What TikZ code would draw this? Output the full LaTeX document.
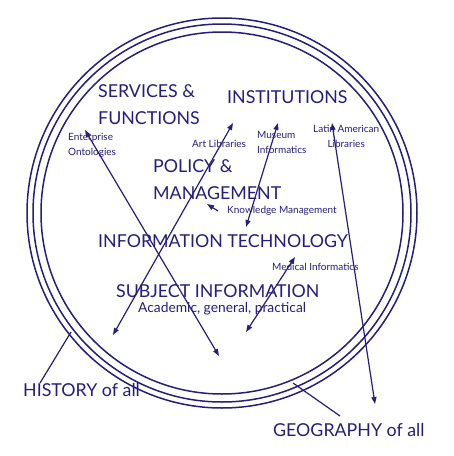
\documentclass[tikz,border=0pt]{standalone}
\usepackage{fontspec}
\setmainfont{Lato}
\usetikzlibrary{arrows.meta}
\definecolor{mapblue}{RGB}{38,30,122}

\begin{document}
\begin{tikzpicture}[x=1pt, y=-1pt, color=mapblue,
    big/.style={font=\fontsize{17.8}{18}\selectfont, inner sep=0pt, anchor=base west},
    mid/.style={font=\fontsize{13.8}{14}\selectfont, inner sep=0pt, anchor=base west},
    small/.style={font=\fontsize{10}{15}\selectfont, inner sep=0pt, anchor=base west, align=left},
    link/.style={line width=1.2pt, {Triangle[length=7pt,width=5pt]}-{Triangle[length=7pt,width=5pt]}},
    oneway/.style={line width=1.2pt, -{Triangle[length=7pt,width=5pt]}},
    tag/.style={line width=1.2pt}]
  \fill[white] (0,0) rectangle (454,456);
  \useasboundingbox (0,0) rectangle (454,456);

  % rings
  \foreach \r in {195,189,181}
    \draw[line width=1.5pt] (222,213) circle[radius=\r];

  % headings
  \node[big] (svc) at (98,97) {SERVICES \&};
  \node[big] (fun) at (98,124) {FUNCTIONS};
  \node[big] (inst) at (227,103) {INSTITUTIONS};
  \node[big] (pol) at (153,172) {POLICY \&};
  \node[big] (man) at (153,199) {MANAGEMENT};
  \node[big] (it) at (98,247) {INFORMATION TECHNOLOGY};
  \node[big] (subj) at (116,297) {SUBJECT INFORMATION};
  \node[mid] (acad) at (138,312) {Academic, general, practical};
  \node[big] (hist) at (23,396) {HISTORY of all};
  \node[big] (geo) at (273,436) {GEOGRAPHY of all};

  % small labels
  \node[small] (ent) at (68,155) {Enterprise\\Ontologies};
  \node[small] (art) at (192,147) {Art Libraries};
  \node[small] (mus) at (257,153) {Museum\\Informatics};
  \node[small, align=center] (lat) at (313,147) {Latin American\\Libraries};
  \node[small] (km) at (227,213) {Knowledge Management};
  \node[small] (med) at (272,270) {Medical Informatics};

  % arrow ends
  \coordinate (svc-tip) at (85,130);
  \coordinate (svc-low) at (219,356);
  \coordinate (art-tip) at (233,123);
  \coordinate (art-low) at (113,335);
  \coordinate (mus-tip) at (278,123);
  \coordinate (mus-low) at (246,227);
  \coordinate (lat-tip) at (332,123);
  \coordinate (lat-low) at (375,404);
  \coordinate (km-tail) at (218,211);
  \coordinate (km-tip) at (207,204);
  \coordinate (med-tip) at (295,257);
  \coordinate (med-low) at (246,332);
  \coordinate (hist-top) at (40,383);
  \coordinate (hist-ring) at (71,332);
  \coordinate (geo-top) at (340,416);
  \coordinate (geo-ring) at (293,383);

  \draw[link] (svc-tip) -- (svc-low);
  \draw[link] (art-tip) -- (art-low);
  \draw[link] (mus-tip) -- (mus-low);
  \draw[link] (lat-tip) -- (lat-low);
  \draw[link] (med-tip) -- (med-low);
  \draw[oneway] (km-tail) -- (km-tip);
  \draw[tag] (hist-top) -- (hist-ring);
  \draw[tag] (geo-top) -- (geo-ring);
\end{tikzpicture}
\end{document}
